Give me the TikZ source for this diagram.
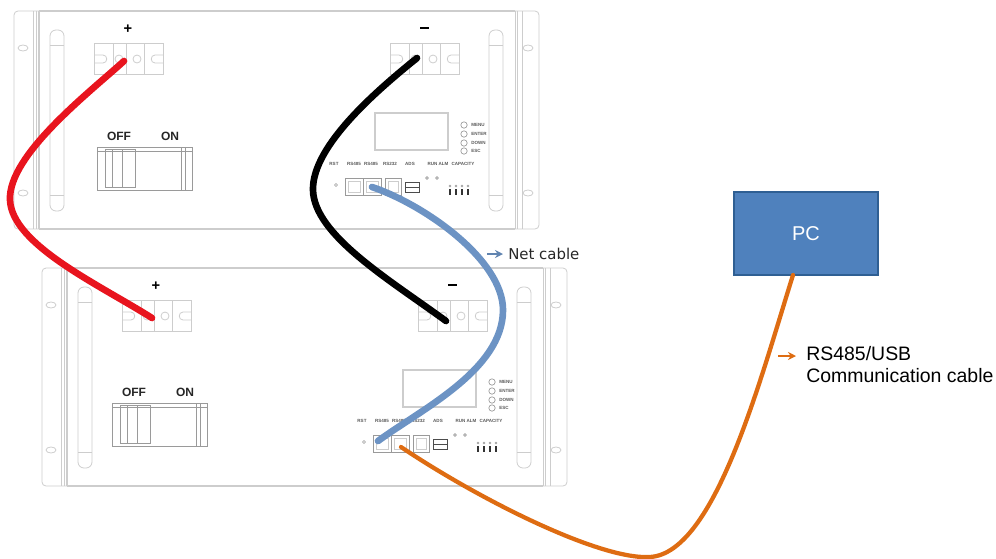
\documentclass[tikz,border=0pt]{standalone}
\usepackage{fontspec}
\setmainfont{Liberation Sans}
\newfontfamily\dejavu{DejaVu Sans}
\usetikzlibrary{arrows.meta}
\definecolor{panelline}{HTML}{CDCDCD}
\definecolor{darkline}{HTML}{9A9A9A}
\definecolor{cablered}{HTML}{E8141E}
\definecolor{cableblue}{HTML}{6C93C4}
\definecolor{cableorange}{HTML}{DE6C12}
\definecolor{pcfill}{HTML}{4F81BD}
\definecolor{pcedge}{HTML}{2F5F93}
\tikzset{
  x=0.75pt,y=-0.75pt,
  frame/.style={draw=panelline,line width=0.6pt},
  inner/.style={draw=darkline,line width=0.5pt},
  cable/.style={line width=5pt,line cap=round,line join=round},
  tiny/.style={font=\fontsize{3.4}{4}\selectfont\bfseries,text=black!65,inner sep=0pt},
  sw/.style={font=\fontsize{9}{10}\selectfont\bfseries,text=black!85,inner sep=0pt},
  sign/.style={font=\fontsize{11}{12}\selectfont\bfseries,inner sep=0pt},
  terminal/.pic={
    \draw[frame] (0,0) rectangle (69,31);
    \draw[frame] (19,0)--(19,31) (32,0)--(32,31) (50,0)--(50,31);
    \draw[frame] (25,16) circle (4) (43,16) circle (4);
    \draw[frame] (0,12)--(9,12) .. controls (14,12) and (14,20) .. (9,20)--(0,20);
    \draw[frame] (69,12)--(61,12) .. controls (56,12) and (56,20) .. (61,20)--(69,20);
  },
  breaker/.pic={
    \node[sw] (-off) at (22,-11) {OFF};
    \node[sw] (-on) at (73,-11) {ON};
    \draw[inner] (0,0) rectangle (95,43);
    \draw[inner] (0,4)--(95,4);
    \draw[inner] (8,2) rectangle (38,40);
    \draw[inner] (15,2)--(15,40) (25,2)--(25,40) (84,0)--(84,43) (88,0)--(88,43);
  },
  battery/.pic={
    % ears and body
    \draw[frame,rounded corners=3pt] (39,11)--(14,11)--(14,229)--(39,229);
    \draw[frame,rounded corners=3pt] (515,11)--(539,11)--(539,229)--(515,229);
    \draw[frame] (33,11)--(33,229) (36,11)--(36,229);
    \draw[frame,line width=1pt] (39,11)--(39,229);
    \draw[frame] (515,11)--(515,229) (517,11)--(517,229) (522,11)--(522,229);
    \draw[frame,line width=1pt] (39,11)--(515,11) (39,229)--(515,229);
    % mounting holes
    \foreach \hx in {23,528}{\foreach \hy in {48,193}{
      \draw[frame] (\hx,\hy) ellipse (5 and 3);
    }}
    % handles
    \foreach \hx in {50,489}{
      \draw[frame,rounded corners=4.5pt] (\hx,30) rectangle (\hx+14,211);
      \draw[frame] (\hx,45)--(\hx+14,45) (\hx,195)--(\hx+14,195);
    }
    % terminals
    \pic at (94,43) {terminal};
    \pic at (390,43) {terminal};
    \node[sign] (-plus) at (128,29) {+};
    \draw[black,line width=1.5pt] (420,28)--(429,28);
    % display
    \draw[frame,line width=0.8pt] (375,113) rectangle (448,150);
    \foreach \by/\bt in {125/MENU,134/ENTER,143/DOWN,151/ESC}{
      \draw[inner] (464,\by) circle (3.2);
      \node[tiny,anchor=west] (-\bt) at (471,\by) {\bt};
    }
    % port captions
    \foreach \lx/\lt/\ln in {334/RST/a,354/RS485/b,371/RS485/c,390/RS232/d,410/ADS/e,438/RUN ALM/f,463/CAPACITY/g}{
      \node[tiny] (-\ln) at (\lx,164) {\lt};
    }
    % ports
    \draw[inner] (336,185) circle (1.5);
    \draw[inner] (345,178) rectangle (363,195);
    \draw[inner] (363,178) rectangle (381,195);
    \draw[inner] (385,178) rectangle (401,195);
    \draw[frame] (348,181) rectangle (360,192) (366,181) rectangle (378,192) (388,181) rectangle (398,192);
    \draw[black!70,line width=0.6pt] (405,182) rectangle (419,192) (405,187)--(419,187);
    \draw[inner] (427,178) circle (1.3) (437,178) circle (1.3);
    % DIP switch
    \foreach \dx in {450,456,462,468}{
      \draw[inner] (\dx,186) circle (1);
      \draw[black!80,line width=1.3pt] (\dx,189)--(\dx,195);
    }
    \coordinate (-tplus) at (124,61);
    \coordinate (-tminus) at (417,58);
    \coordinate (-port1) at (350,184);
    \coordinate (-port2) at (372,187);
  }
}
\begin{document}
\begin{tikzpicture}
\useasboundingbox (0,0) rectangle (996,558);
\pic (b1) at (0,0) {battery};
\pic (b2) at (28,257) {battery};
\pic (s1) at (97,147) {breaker};
\pic (s2) at (112,403) {breaker};
% PC
\node[draw=pcedge,fill=pcfill,line width=1.4pt,minimum width=108pt,minimum height=62pt,inner sep=0pt,text=white,font=\fontsize{15}{17}\selectfont] (pc) at (806,233.5) {PC};
\begin{scope}
\clip (0,0) rectangle (996,558);
\draw[cable,cablered] (b1-tplus) .. controls (90,92) and (8,155) .. (10,200) .. controls (12,245) and (100,285) .. (b2-tplus);
\coordinate (blackend) at (446,321);
\draw[cable,black] (b1-tminus) .. controls (380,88) and (312,145) .. (313,190) .. controls (314,235) and (390,280) .. (blackend);
\draw[cable,cableblue] (b1-port2) .. controls (425,205) and (503,260) .. (503,310) .. controls (503,370) and (420,410) .. (b2-port1);
\coordinate (orangestart) at (401,447);
\coordinate (pcin) at (793,275);
\draw[cable,cableorange,line width=3.2pt] (orangestart) .. controls (480,500) and (600,560) .. (650,557) .. controls (715,553) and (760,380) .. (pcin);
\end{scope}
% labels
\coordinate (neta) at (487,254);
\coordinate (netb) at (503,254);
\draw[-{Stealth[length=6pt,width=6pt]},cableblue!90!black,line width=1.3pt] (neta)--(netb);
\node[anchor=west,inner sep=0pt,font=\dejavu\fontsize{11.2}{13}\selectfont,text=black!85] (netlabel) at (508,254) {Net cable};
\coordinate (rsa) at (778,356);
\coordinate (rsb) at (796,356);
\draw[-{Stealth[length=6pt,width=6pt]},cableorange,line width=1.1pt] (rsa)--(rsb);
\node[anchor=west,inner sep=0pt,font=\fontsize{14.6}{16.5}\selectfont] (rslabel) at (806,354) {RS485/USB};
\node[anchor=west,inner sep=0pt,font=\fontsize{14.6}{16.5}\selectfont] (commlabel) at (806,376) {Communication cable};
\end{tikzpicture}
\end{document}
